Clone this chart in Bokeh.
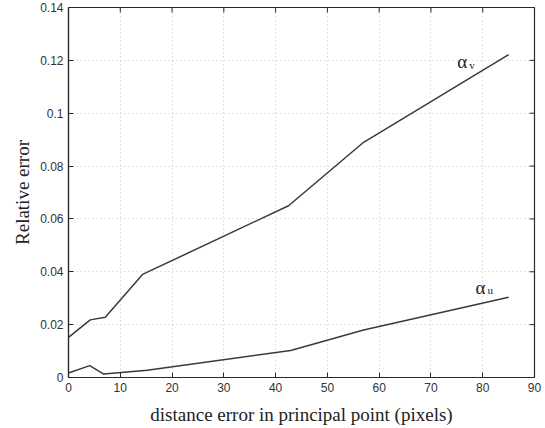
import math
from bokeh.plotting import figure
from bokeh.models import Range1d, FixedTicker, ColumnDataSource
from bokeh.core.properties import value
from bokeh.embed import file_html
from bokeh.resources import INLINE

# data
x_v = [0, 4.2, 7.1, 14.3, 42.5, 57.0, 85.0]
alpha_v = [0.0152, 0.0218, 0.0228, 0.0390, 0.0650, 0.0890, 0.1222]
x_u = [0, 4.1, 6.8, 15.2, 42.9, 57.0, 85.0]
alpha_u = [0.0017, 0.0045, 0.0013, 0.0027, 0.0102, 0.0180, 0.0304]
x_ticks = [0, 10, 20, 30, 40, 50, 60, 70, 80, 90]
y_ticks = [0, 0.02, 0.04, 0.06, 0.08, 0.1, 0.12, 0.14]
y_tick_labels = {0: "0", 0.02: "0.02", 0.04: "0.04", 0.06: "0.06", 0.08: "0.08",
                 0.1: "0.1", 0.12: "0.12", 0.14: "0.14"}
series_names = ["α", "α"]
series_subs = ["v", "u"]
label_x = [75.1, 78.6]
label_y = [0.1194, 0.0341]

LINE = "#3a3a3a"
AX = "#2a2a2a"
X0, X1, Y0, Y1 = 0, 90, 0, 0.14

p = figure(width=545, height=428, output_backend="svg", toolbar_location=None,
           x_range=Range1d(X0, X1), y_range=Range1d(Y0, Y1),
           min_border_left=68, min_border_right=11, min_border_top=7, min_border_bottom=51)
p.background_fill_color = "white"
p.border_fill_color = "white"
p.outline_line_color = AX
p.outline_line_width = 1.2

for ax in (p.xaxis[0], p.yaxis[0]):
    ax.major_tick_in = 5
    ax.major_tick_out = 0
    ax.minor_tick_line_color = None
    ax.axis_line_color = AX
    ax.axis_line_width = 1.2
    ax.major_tick_line_color = AX
    ax.major_label_text_font = "Liberation Sans"
    ax.major_label_text_font_size = "12px"
    ax.major_label_text_color = "#333333"
    ax.axis_label_text_font = "Liberation Serif"
    ax.axis_label_text_font_size = "19px"
    ax.axis_label_text_font_style = "normal"
    ax.axis_label_text_color = "#222222"

p.xaxis[0].ticker = FixedTicker(ticks=x_ticks)
p.yaxis[0].ticker = FixedTicker(ticks=y_ticks)
p.yaxis[0].major_label_overrides = y_tick_labels
p.xaxis[0].axis_label = "distance error in principal point (pixels)"
p.yaxis[0].axis_label = "Relative error"
p.xaxis[0].major_label_standoff = 5
p.yaxis[0].major_label_standoff = 5
p.xaxis[0].axis_label_standoff = 9
p.yaxis[0].axis_label_standoff = 4

p.xgrid.ticker = FixedTicker(ticks=x_ticks)
p.ygrid.ticker = FixedTicker(ticks=y_ticks)
p.grid.grid_line_color = "#c4c4c4"
p.grid.grid_line_dash = "1 3"
p.grid.grid_line_width = 1

# inward ticks on the top and right edges (clipped to frame)
p.scatter(x_ticks, [Y1] * len(x_ticks), marker="dash", angle=math.pi / 2, size=10,
          line_color=AX, line_width=1)
p.scatter([X1] * len(y_ticks), y_ticks, marker="dash", size=10,
          line_color=AX, line_width=1)

p.line(x_v, alpha_v, line_color=LINE, line_width=1.5)
p.line(x_u, alpha_u, line_color=LINE, line_width=1.5)

src = ColumnDataSource(dict(x=label_x, y=label_y, t=series_names, s=series_subs))
p.text(x="x", y="y", text="t", source=src, text_font=value("Liberation Serif"),
       text_font_size="19px", text_color="#222222", text_baseline="middle", text_align="left")
p.text(x="x", y="y", text="s", source=src, text_font=value("Liberation Serif"),
       text_font_size="11px", text_color="#222222", text_baseline="middle", text_align="left",
       x_offset=12, y_offset=3)

open("out.html", "w").write(file_html(p, INLINE))
